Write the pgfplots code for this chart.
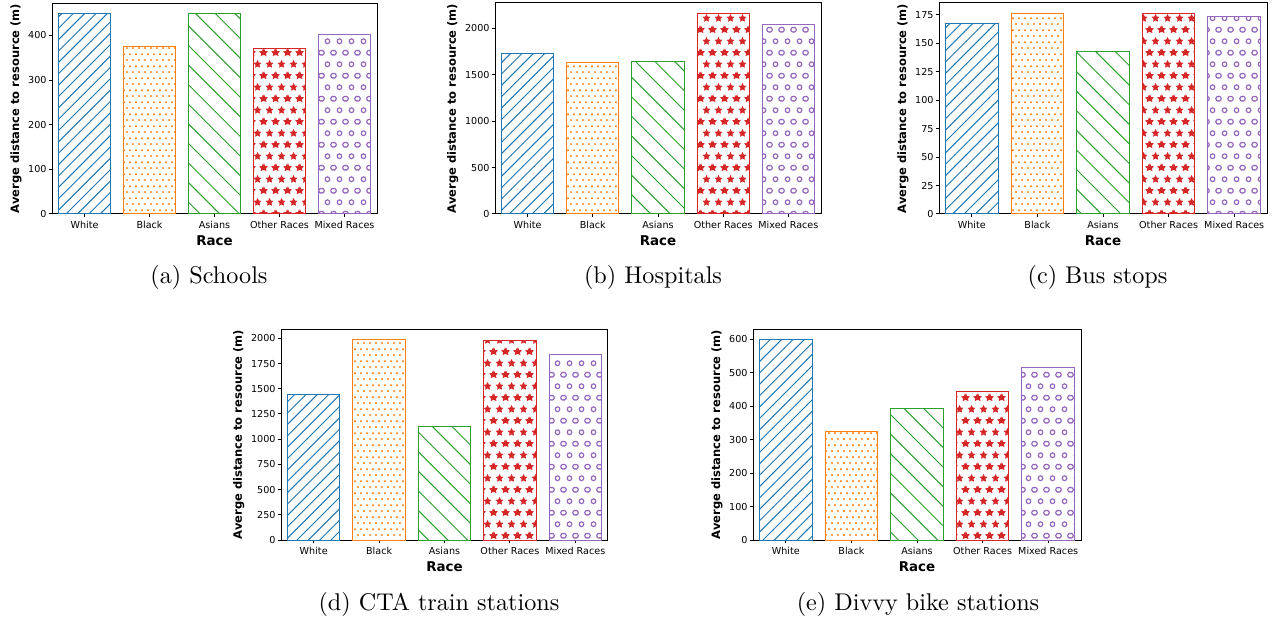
\documentclass[border=0pt]{standalone}
\usepackage{fontspec}
\usepackage{pgfplots}
\pgfplotsset{compat=1.18}
\usetikzlibrary{patterns}
\newfontfamily\dejavu{DejaVu Sans}
\newlength\px \setlength\px{0.4135pt}
\definecolor{c0}{HTML}{1F77B4}
\definecolor{c1}{HTML}{FF7F0E}
\definecolor{c2}{HTML}{2CA02C}
\definecolor{c3}{HTML}{D62728}
\definecolor{c4}{HTML}{9467BD}
\newcommand\starat[2]{%
 \pgfpathmoveto{\pgfpoint{#1}{#2+1.78pt}}%
 \pgfpathlineto{\pgfpoint{#1-0.523pt}{#2+0.720pt}}%
 \pgfpathlineto{\pgfpoint{#1-1.693pt}{#2+0.550pt}}%
 \pgfpathlineto{\pgfpoint{#1-0.846pt}{#2-0.275pt}}%
 \pgfpathlineto{\pgfpoint{#1-1.046pt}{#2-1.440pt}}%
 \pgfpathlineto{\pgfpoint{#1}{#2-0.890pt}}%
 \pgfpathlineto{\pgfpoint{#1+1.046pt}{#2-1.440pt}}%
 \pgfpathlineto{\pgfpoint{#1+0.846pt}{#2-0.275pt}}%
 \pgfpathlineto{\pgfpoint{#1+1.693pt}{#2+0.550pt}}%
 \pgfpathlineto{\pgfpoint{#1+0.523pt}{#2+0.720pt}}%
 \pgfpathclose}
\pgfdeclarepatternformonly{mplNE}{\pgfqpoint{-1pt}{-1pt}}{\pgfqpoint{5.7pt}{5.7pt}}{\pgfqpoint{4.7pt}{4.7pt}}{%
 \pgfsetlinewidth{0.4pt}%
 \pgfpathmoveto{\pgfqpoint{-0.1pt}{-0.1pt}}%
 \pgfpathlineto{\pgfqpoint{4.8pt}{4.8pt}}%
 \pgfusepath{stroke}}
\pgfdeclarepatternformonly{mplNW}{\pgfqpoint{-1pt}{-1pt}}{\pgfqpoint{9.1pt}{9.1pt}}{\pgfqpoint{8.1pt}{8.1pt}}{%
 \pgfsetlinewidth{0.4pt}%
 \pgfpathmoveto{\pgfqpoint{-0.1pt}{8.2pt}}%
 \pgfpathlineto{\pgfqpoint{8.2pt}{-0.1pt}}%
 \pgfusepath{stroke}}
\pgfdeclarepatternformonly{mpldots}{\pgfqpoint{0pt}{0pt}}{\pgfqpoint{2.45pt}{4.9pt}}{\pgfqpoint{2.45pt}{4.9pt}}{%
 \pgfpathcircle{\pgfqpoint{1.225pt}{1.225pt}}{0.46pt}%
 \pgfpathcircle{\pgfqpoint{0pt}{3.675pt}}{0.46pt}%
 \pgfpathcircle{\pgfqpoint{2.45pt}{3.675pt}}{0.46pt}%
 \pgfusepath{fill}}
\pgfdeclarepatternformonly{mplstars}{\pgfqpoint{0pt}{0pt}}{\pgfqpoint{4.755pt}{9.51pt}}{\pgfqpoint{4.755pt}{9.51pt}}{%
 \starat{2.3775pt}{2.3775pt}%
 \starat{0pt}{7.1325pt}%
 \starat{4.755pt}{7.1325pt}%
 \pgfusepath{fill}}
\pgfdeclarepatternformonly{mplcircles}{\pgfqpoint{0pt}{0pt}}{\pgfqpoint{4.755pt}{9.51pt}}{\pgfqpoint{4.755pt}{9.51pt}}{%
 \pgfsetlinewidth{0.5pt}%
 \pgfpathcircle{\pgfqpoint{2.3775pt}{2.3775pt}}{0.98pt}%
 \pgfpathcircle{\pgfqpoint{0pt}{7.1325pt}}{0.98pt}%
 \pgfpathcircle{\pgfqpoint{4.755pt}{7.1325pt}}{0.98pt}%
 \pgfusepath{stroke}}
\pgfplotsset{
 barbase/.style={ybar, bar width=0.8, bar shift=0pt, line width=1\px},
 barA/.style={barbase, draw=c0, pattern=mplNE, pattern color=c0},
 barB/.style={barbase, draw=c1, pattern=mpldots, pattern color=c1},
 barC/.style={barbase, draw=c2, pattern=mplNW, pattern color=c2},
 barD/.style={barbase, draw=c3, pattern=mplstars, pattern color=c3},
 barE/.style={barbase, draw=c4, pattern=mplcircles, pattern color=c4},
 mpl/.style={
  scale only axis, height=211\px, anchor=south west,
  ymin=0, xmin=-0.5, xmax=4.5,
  axis line style={line width=1\px, black},
  tick style={line width=1\px, black},
  major tick length=3.4\px, tick align=outside, tick pos=left,
  xtick={0,1,2,3,4},
  xticklabels={White,Black,Asians,Other Races,Mixed Races},
  ticklabel style={font=\dejavu\fontsize{3.97pt}{4.5pt}\selectfont, inner sep=1.6\px},
  xticklabel style={yshift=-2\px},
  /pgf/number format/assume math mode=true,
  /pgf/number format/1000 sep={},
  xlabel={Race},
  ylabel={Averge distance to resource (m)},
  xlabel style={font=\dejavu\bfseries\fontsize{5.55pt}{6pt}\selectfont, inner sep=4.9\px},
  ylabel style={font=\dejavu\bfseries\fontsize{4.76pt}{5pt}\selectfont, inner sep=4.6\px},
 }
}
\newcommand\bars[5]{%
 \addplot[barA] coordinates {(0,#1)};
 \addplot[barB] coordinates {(1,#2)};
 \addplot[barC] coordinates {(2,#3)};
 \addplot[barD] coordinates {(3,#4)};
 \addplot[barE] coordinates {(4,#5)};
}
\begin{document}
\begin{tikzpicture}
\useasboundingbox (0,0) rectangle (1272\px,-621\px);
% (a) Schools
\begin{axis}[mpl, at={(52\px,-214\px)}, width=325\px, ymax=472.5, ytick={0,100,200,300,400}]
\bars{450}{374}{448}{370}{401}
\end{axis}
% (b) Hospitals
\begin{axis}[mpl, at={(495\px,-214\px)}, width=326\px, ymax=2270, ytick={0,500,1000,1500,2000}]
\bars{1731}{1634}{1641}{2162}{2043}
\end{axis}
% (c) Bus stops
\begin{axis}[mpl, at={(939\px,-214\px)}, width=328\px, ymax=185.4, ytick={0,25,50,75,100,125,150,175}]
\bars{167.4}{176.5}{142.8}{176.6}{173.8}
\end{axis}
% (d) CTA train stations
\begin{axis}[mpl, at={(281\px,-540\px)}, width=327\px, ymax=2093, ytick={0,250,500,750,1000,1250,1500,1750,2000}]
\bars{1445}{1993}{1124}{1977}{1841}
\end{axis}
% (e) Divvy bike stations
\begin{axis}[mpl, at={(753\px,-540\px)}, width=328\px, ymax=630, ytick={0,100,200,300,400,500,600}]
\bars{600}{325}{394}{444.5}{516}
\end{axis}
\node[anchor=base, font=\fontsize{10pt}{12pt}\selectfont] at (209\px,-284\px) {(a) Schools};
\node[anchor=base, font=\fontsize{10pt}{12pt}\selectfont] at (653\px,-284\px) {(b) Hospitals};
\node[anchor=base, font=\fontsize{10pt}{12pt}\selectfont] at (1097.5\px,-284\px) {(c) Bus stops};
\node[anchor=base, font=\fontsize{10pt}{12pt}\selectfont] at (439\px,-610\px) {(d) CTA train stations};
\node[anchor=base, font=\fontsize{10pt}{12pt}\selectfont] at (918\px,-610\px) {(e) Divvy bike stations};
\end{tikzpicture}
\end{document}
